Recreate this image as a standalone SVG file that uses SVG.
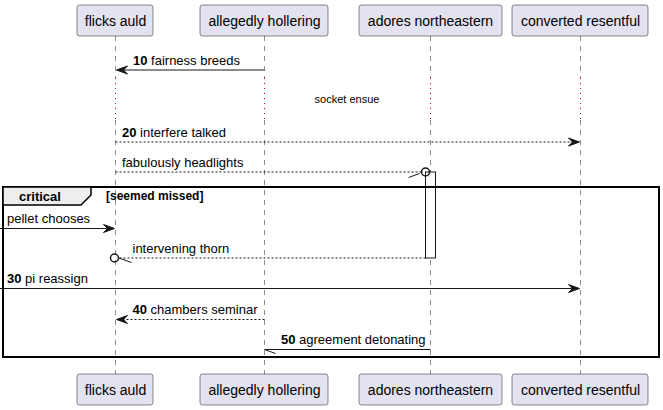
<svg xmlns="http://www.w3.org/2000/svg" width="663" height="410" viewBox="0 0 663 410">
<style>
.pbox{fill:#E2E2F0;stroke:#181818;stroke-width:0.5}
.pt{font-family:"Liberation Sans",Arial,sans-serif;font-size:14px;fill:#000}
.life{stroke:#181818;stroke-width:0.5;stroke-dasharray:5,5;fill:none}
.delay{stroke:#A80036;stroke-width:1;stroke-dasharray:1,4;fill:none}
.msg{stroke:#181818;stroke-width:1;fill:none}
.dash{stroke-dasharray:2,2}
.head{fill:#181818;stroke:#181818;stroke-width:1}
.mt{font-family:"Liberation Sans",Arial,sans-serif;font-size:13px;fill:#000}
.b{font-weight:bold}
.small{font-family:"Liberation Sans",Arial,sans-serif;font-size:11px;fill:#000}
.guard{font-family:"Liberation Sans",Arial,sans-serif;font-size:12px;font-weight:bold;fill:#000}
</style>
<rect width="663" height="410" fill="#FFFFFF"/>
<g id="lifelines">
<path class="life" d="M115.5,36 V78 M115.5,120 V374"/>
<path class="life" d="M264.5,36 V78 M264.5,120 V374"/>
<path class="life" d="M430.5,36 V78 M430.5,120 V374"/>
<path class="life" d="M580.5,36 V78 M580.5,120 V374"/>
<path class="delay" d="M115.5,78 V120 M264.5,78 V120 M430.5,78 V120 M580.5,78 V120"/>
<text class="small" x="347" y="103" text-anchor="middle">socket ensue</text>
</g>
<g id="activation">
<rect x="425.5" y="172" width="10" height="86" fill="#FFFFFF" stroke="#181818" stroke-width="1"/>
</g>
<g id="frame-critical">
<rect x="3" y="187" width="656" height="170" fill="none" stroke="#000000" stroke-width="2"/>
<polygon points="3,187 91,187 91,195 81,205 3,205" fill="#EEEEEE" stroke="#000000" stroke-width="1.5"/>
<text class="mt b" x="19" y="201">critical</text>
<text class="guard" x="106" y="200">[seemed missed]</text>
</g>
<g id="p-flicks-auld">
<rect class="pbox" x="77" y="5" width="76" height="31" rx="2.5"/>
<text class="pt" x="115.5" y="26" text-anchor="middle">flicks auld</text>
<rect class="pbox" x="77" y="374" width="76" height="31" rx="2.5"/>
<text class="pt" x="115.5" y="395" text-anchor="middle">flicks auld</text>
</g>
<g id="p-allegedly-hollering">
<rect class="pbox" x="200" y="5" width="128" height="31" rx="2.5"/>
<text class="pt" x="264.5" y="26" text-anchor="middle">allegedly hollering</text>
<rect class="pbox" x="200" y="374" width="128" height="31" rx="2.5"/>
<text class="pt" x="264.5" y="395" text-anchor="middle">allegedly hollering</text>
</g>
<g id="p-adores-northeastern">
<rect class="pbox" x="359" y="5" width="143" height="31" rx="2.5"/>
<text class="pt" x="430.5" y="26" text-anchor="middle">adores northeastern</text>
<rect class="pbox" x="359" y="374" width="143" height="31" rx="2.5"/>
<text class="pt" x="430.5" y="395" text-anchor="middle">adores northeastern</text>
</g>
<g id="p-converted-resentful">
<rect class="pbox" x="512" y="5" width="136" height="31" rx="2.5"/>
<text class="pt" x="580.5" y="26" text-anchor="middle">converted resentful</text>
<rect class="pbox" x="512" y="374" width="136" height="31" rx="2.5"/>
<text class="pt" x="580.5" y="395" text-anchor="middle">converted resentful</text>
</g>
<g id="connectors">
<line class="msg" x1="264.5" y1="70" x2="117" y2="70"/>
<polygon class="head" points="116.5,70 127.5,66 123.5,70 127.5,74"/>
<text class="mt" x="133" y="65"><tspan class="b">10</tspan> fairness breeds</text>
<line class="msg dash" x1="115.5" y1="142" x2="578" y2="142"/>
<polygon class="head" points="579.5,142 568.5,138 572.5,142 568.5,146"/>
<text class="mt" x="122" y="137"><tspan class="b">20</tspan> interfere talked</text>
<line class="msg dash" x1="115.5" y1="172" x2="421.5" y2="172"/>
<circle cx="425.5" cy="172" r="4" fill="none" stroke="#181818" stroke-width="1.5"/>
<line class="msg" x1="408.5" y1="177.5" x2="419.5" y2="173.5"/>
<text class="mt" x="122" y="167">fabulously headlights</text>
<line class="msg" x1="0" y1="228.5" x2="113" y2="228.5"/>
<polygon class="head" points="114.5,228.5 103.5,224.5 107.5,228.5 103.5,232.5"/>
<text class="mt" x="7" y="223">pellet chooses</text>
<line class="msg dash" x1="425.5" y1="258" x2="118.5" y2="258"/>
<circle cx="114.5" cy="258" r="4" fill="none" stroke="#181818" stroke-width="1.5"/>
<line class="msg" x1="119" y1="258" x2="131.5" y2="262.5"/>
<text class="mt" x="132.5" y="253">intervening thorn</text>
<line class="msg" x1="0" y1="288.5" x2="578" y2="288.5"/>
<polygon class="head" points="579.5,288.5 568.5,284.5 572.5,288.5 568.5,292.5"/>
<text class="mt" x="7" y="283"><tspan class="b">30</tspan> pi reassign</text>
<line class="msg dash" x1="264.5" y1="319.5" x2="117" y2="319.5"/>
<polygon class="head" points="116.5,319.5 127.5,315.5 123.5,319.5 127.5,323.5"/>
<text class="mt" x="132.5" y="314"><tspan class="b">40</tspan> chambers seminar</text>
<line class="msg" x1="430.5" y1="349.5" x2="264.5" y2="349.5"/>
<line class="msg" x1="264.5" y1="349.5" x2="275.5" y2="353.5"/>
<text class="mt" x="281" y="344"><tspan class="b">50</tspan> agreement detonating</text>
</g>
</svg>
